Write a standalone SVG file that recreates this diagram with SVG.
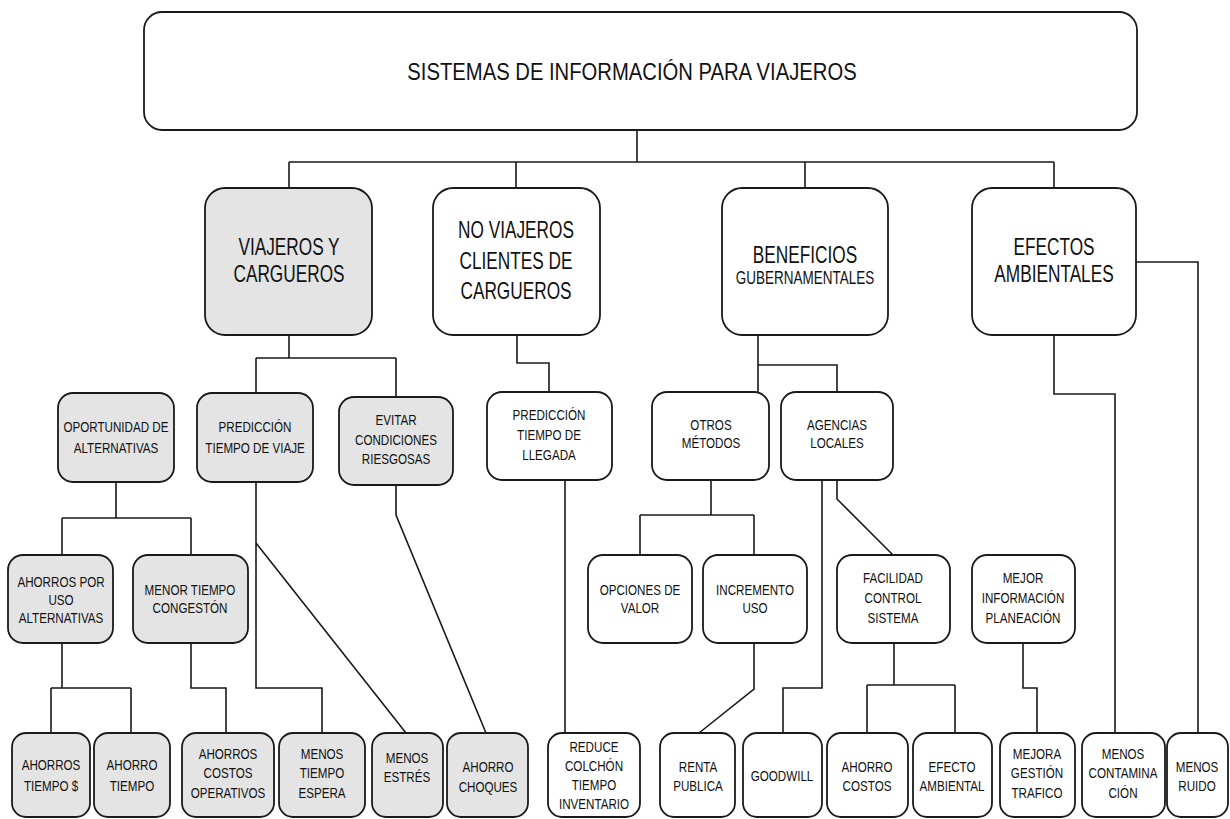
<svg xmlns="http://www.w3.org/2000/svg" width="1230" height="819" viewBox="0 0 1230 819">
<style>
.bx{fill:#fff;stroke:#1a1a1a;stroke-width:1.8}
.g{fill:#e4e4e4}
.c{fill:none;stroke:#1a1a1a;stroke-width:1.6}
text{font-family:"Liberation Sans",Arial,sans-serif;fill:#111;text-anchor:middle}
.t{font-size:23px}
.m{font-size:18px}
.s{font-size:15.5px}
</style>
<rect width="1230" height="819" fill="#fff"/>
<g id="connectors" class="c">
<path d="M637,130 V162 M289,162 H1054 M289,162 V188 M516,162 V188 M805,162 V188 M1054,162 V188"/>
<path d="M289,335 V358 M256,358 H396 M256,358 V393 M396,358 V397"/>
<path d="M517,335 V363 H549 V392"/>
<path d="M758,335 V392 M758,365 H837 V392"/>
<path d="M1054,335 V394 H1115 V733 M1136,262 H1198 V733"/>
<path d="M116,482 V518 M62,518 H191 M62,518 V555 M191,518 V555"/>
<path d="M62,643 V688 M51,688 H131 M51,688 V733 M131,688 V733"/>
<path d="M191,643 V688 H226 V733"/>
<path d="M256,482 V688 H322 V733 M256,543 L406,733"/>
<path d="M396,485 V515 L486,733"/>
<path d="M565,480 V733"/>
<path d="M711,480 V515 M640,515 H754 M640,515 V555 M754,515 V555"/>
<path d="M754,643 V689 L699,733"/>
<path d="M822,480 V688 H783 V733 M837,480 V499 L893,555"/>
<path d="M894,643 V685 M867,685 H955 M867,685 V733 M955,685 V733"/>
<path d="M1023,643 V688 H1037 V733"/>
</g>
<g id="root"><rect class="bx" x="144" y="12" width="993" height="118" rx="18"/>
<text class="t" transform="translate(632,80) scale(.88,1)">SISTEMAS DE INFORMACIÓN PARA VIAJEROS</text></g>
<g id="viajeros"><rect class="bx g" x="205" y="188" width="167" height="147" rx="20"/>
<text class="t" transform="translate(289,255) scale(.75,1)"><tspan x="0" y="0">VIAJEROS Y</tspan><tspan x="0" y="27">CARGUEROS</tspan></text></g>
<g id="noviajeros"><rect class="bx" x="433" y="188" width="167" height="147" rx="20"/>
<text class="t" transform="translate(516,238) scale(.75,1)"><tspan x="0" y="0">NO VIAJEROS</tspan><tspan x="0" y="31">CLIENTES DE</tspan><tspan x="0" y="61">CARGUEROS</tspan></text></g>
<g id="beneficios"><rect class="bx" x="722" y="188" width="166" height="147" rx="20"/>
<text class="t" transform="translate(805,263) scale(.75,1)">BENEFICIOS</text>
<text class="m" transform="translate(805,284) scale(.75,1)">GUBERNAMENTALES</text></g>
<g id="efectos"><rect class="bx" x="972" y="188" width="164" height="147" rx="20"/>
<text class="t" transform="translate(1054,255) scale(.75,1)"><tspan x="0" y="0">EFECTOS</tspan><tspan x="0" y="27">AMBIENTALES</tspan></text></g>
<g id="oportunidad"><rect class="bx g" x="58" y="393" width="116" height="89" rx="15"/>
<text class="s" transform="translate(116,432) scale(.75,1)"><tspan x="0" y="0">OPORTUNIDAD DE</tspan><tspan x="0" y="21">ALTERNATIVAS</tspan></text></g>
<g id="pred_viaje"><rect class="bx g" x="197" y="393" width="116" height="89" rx="15"/>
<text class="s" transform="translate(255,432) scale(.75,1)"><tspan x="0" y="0">PREDICCIÓN</tspan><tspan x="0" y="21">TIEMPO DE VIAJE</tspan></text></g>
<g id="evitar"><rect class="bx g" x="339" y="397" width="114" height="88" rx="15"/>
<text class="s" transform="translate(396,425) scale(.75,1)"><tspan x="0" y="0">EVITAR</tspan><tspan x="0" y="20">CONDICIONES</tspan><tspan x="0" y="39">RIESGOSAS</tspan></text></g>
<g id="pred_llegada"><rect class="bx" x="487" y="392" width="125" height="88" rx="15"/>
<text class="s" transform="translate(549,420) scale(.75,1)"><tspan x="0" y="0">PREDICCIÓN</tspan><tspan x="0" y="20">TIEMPO DE</tspan><tspan x="0" y="40">LLEGADA</tspan></text></g>
<g id="otros"><rect class="bx" x="652" y="392" width="117" height="88" rx="15"/>
<text class="s" transform="translate(711,430) scale(.75,1)"><tspan x="0" y="0">OTROS</tspan><tspan x="0" y="18">MÉTODOS</tspan></text></g>
<g id="agencias"><rect class="bx" x="781" y="392" width="112" height="88" rx="15"/>
<text class="s" transform="translate(837,430) scale(.75,1)"><tspan x="0" y="0">AGENCIAS</tspan><tspan x="0" y="18">LOCALES</tspan></text></g>
<g id="ahorros_por"><rect class="bx g" x="8" y="555" width="105" height="88" rx="15"/>
<text class="s" transform="translate(61,587) scale(.75,1)"><tspan x="0" y="0">AHORROS POR</tspan><tspan x="0" y="18">USO</tspan><tspan x="0" y="36">ALTERNATIVAS</tspan></text></g>
<g id="menor"><rect class="bx g" x="133" y="555" width="115" height="88" rx="15"/>
<text class="s" transform="translate(190,595) scale(.75,1)"><tspan x="0" y="0">MENOR TIEMPO</tspan><tspan x="0" y="18">CONGESTÓN</tspan></text></g>
<g id="opciones"><rect class="bx" x="588" y="555" width="104" height="88" rx="15"/>
<text class="s" transform="translate(640,595) scale(.75,1)"><tspan x="0" y="0">OPCIONES DE</tspan><tspan x="0" y="18">VALOR</tspan></text></g>
<g id="incremento"><rect class="bx" x="703" y="555" width="104" height="88" rx="15"/>
<text class="s" transform="translate(755,595) scale(.75,1)"><tspan x="0" y="0">INCREMENTO</tspan><tspan x="0" y="18">USO</tspan></text></g>
<g id="facilidad"><rect class="bx" x="837" y="555" width="113" height="88" rx="15"/>
<text class="s" transform="translate(893,583) scale(.75,1)"><tspan x="0" y="0">FACILIDAD</tspan><tspan x="0" y="20">CONTROL</tspan><tspan x="0" y="40">SISTEMA</tspan></text></g>
<g id="mejor"><rect class="bx" x="972" y="555" width="103" height="88" rx="15"/>
<text class="s" transform="translate(1023,583) scale(.75,1)"><tspan x="0" y="0">MEJOR</tspan><tspan x="0" y="20">INFORMACIÓN</tspan><tspan x="0" y="40">PLANEACIÓN</tspan></text></g>
<g id="ahorros_tiempo"><rect class="bx g" x="12" y="733" width="78" height="84" rx="14"/>
<text class="s" transform="translate(51,770) scale(.75,1)"><tspan x="0" y="0">AHORROS</tspan><tspan x="0" y="21">TIEMPO $</tspan></text></g>
<g id="ahorro_tiempo"><rect class="bx g" x="94" y="733" width="76" height="84" rx="14"/>
<text class="s" transform="translate(132,770) scale(.75,1)"><tspan x="0" y="0">AHORRO</tspan><tspan x="0" y="21">TIEMPO</tspan></text></g>
<g id="ahorros_costos"><rect class="bx g" x="182" y="733" width="92" height="84" rx="14"/>
<text class="s" transform="translate(228,759) scale(.75,1)"><tspan x="0" y="0">AHORROS</tspan><tspan x="0" y="19">COSTOS</tspan><tspan x="0" y="39">OPERATIVOS</tspan></text></g>
<g id="menos_tiempo"><rect class="bx g" x="279" y="733" width="86" height="84" rx="14"/>
<text class="s" transform="translate(322,759) scale(.75,1)"><tspan x="0" y="0">MENOS</tspan><tspan x="0" y="19">TIEMPO</tspan><tspan x="0" y="39">ESPERA</tspan></text></g>
<g id="menos_estres"><rect class="bx g" x="372" y="733" width="71" height="84" rx="14"/>
<text class="s" transform="translate(407,763) scale(.75,1)"><tspan x="0" y="0">MENOS</tspan><tspan x="0" y="19">ESTRÉS</tspan></text></g>
<g id="ahorro_choques"><rect class="bx g" x="447" y="733" width="81" height="84" rx="14"/>
<text class="s" transform="translate(488,772) scale(.75,1)"><tspan x="0" y="0">AHORRO</tspan><tspan x="0" y="20">CHOQUES</tspan></text></g>
<g id="reduce"><rect class="bx" x="548" y="733" width="92" height="84" rx="14"/>
<text class="s" transform="translate(594,752) scale(.75,1)"><tspan x="0" y="0">REDUCE</tspan><tspan x="0" y="19">COLCHÓN</tspan><tspan x="0" y="38">TIEMPO</tspan><tspan x="0" y="57">INVENTARIO</tspan></text></g>
<g id="renta"><rect class="bx" x="660" y="733" width="75" height="84" rx="14"/>
<text class="s" transform="translate(698,772) scale(.75,1)"><tspan x="0" y="0">RENTA</tspan><tspan x="0" y="19">PUBLICA</tspan></text></g>
<g id="goodwill"><rect class="bx" x="743" y="733" width="79" height="84" rx="14"/>
<text class="s" transform="translate(782,781) scale(.75,1)">GOODWILL</text></g>
<g id="ahorro_costos"><rect class="bx" x="827" y="733" width="81" height="84" rx="14"/>
<text class="s" transform="translate(867,772) scale(.75,1)"><tspan x="0" y="0">AHORRO</tspan><tspan x="0" y="19">COSTOS</tspan></text></g>
<g id="efecto_ambiental"><rect class="bx" x="913" y="733" width="79" height="84" rx="14"/>
<text class="s" transform="translate(952,772) scale(.75,1)"><tspan x="0" y="0">EFECTO</tspan><tspan x="0" y="19">AMBIENTAL</tspan></text></g>
<g id="mejora"><rect class="bx" x="1000" y="733" width="75" height="84" rx="14"/>
<text class="s" transform="translate(1037,759) scale(.75,1)"><tspan x="0" y="0">MEJORA</tspan><tspan x="0" y="19">GESTIÓN</tspan><tspan x="0" y="39">TRAFICO</tspan></text></g>
<g id="menos_contaminacion"><rect class="bx" x="1082" y="733" width="83" height="84" rx="14"/>
<text class="s" transform="translate(1123,759) scale(.75,1)"><tspan x="0" y="0">MENOS</tspan><tspan x="0" y="19">CONTAMINA</tspan><tspan x="0" y="39">CIÓN</tspan></text></g>
<g id="menos_ruido"><rect class="bx" x="1167" y="733" width="61" height="84" rx="14"/>
<text class="s" transform="translate(1197,772) scale(.75,1)"><tspan x="0" y="0">MENOS</tspan><tspan x="0" y="19">RUIDO</tspan></text></g>
</svg>
